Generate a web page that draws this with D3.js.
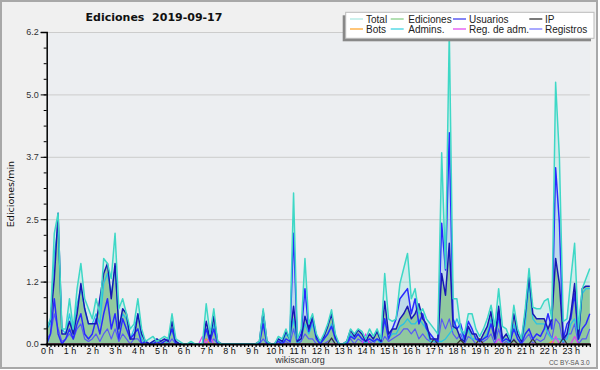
<!DOCTYPE html>
<html><head><meta charset="utf-8">
<script src="https://cdn.jsdelivr.net/npm/d3@7"></script>
<style>body{margin:0;background:#fff}svg{display:block}</style>
</head><body>
<svg id="chart" width="600" height="370"></svg>
<script>
// ---- data: edits per minute, one value every 10 minutes (00:00 .. 23:50) ----
const hourLabels = d3.range(24).map(h => h + " h");
const yTickValues = [0, 1.24, 2.48, 3.72, 4.96, 6.2];
const yTickLabels = ["0.0", "1.2", "2.5", "3.7", "5.0", "6.2"];

const total = [
 0.3,0.5,2.2,2.6,0.3,0.3,  0.9,0.3,1.1,1.6,0.9,0.7,  0.5,0.9,0.6,1.7,1.6,1.3,  2.2,0.7,0.9,0.6,0.3,0.4,
 0.9,0.3,0.05,0.1,0.15,0.05, 0.1,0.15,0.1,0.6,0.1,0.05, 0,0,0.05,0,0,0, 0.8,0.2,0.7,0.05,0,0,
 0,0,0,0,0,0, 0,0,0.05,0.7,0.05,0, 0,0.15,0.1,0.3,0.1,3.0, 0.1,0.3,1.7,0.4,0.6,0.2,
 0.05,0.2,0.4,0.68,0.2,0, 0,0.05,0.3,0.2,0.3,0.25, 0.1,0.3,0.15,0.3,0.1,1.4, 0.5,0.45,0.5,1.2,1.5,1.8,
 0.9,1.1,0.6,0.7,0.5,0.4, 0.3,0.2,3.8,1.5,6.2,0.9, 0.9,0.3,0.2,0.6,0.6,0.3, 0.15,0.3,0.5,0.77,0.35,1.1,
 0.35,0.3,0.1,0.77,0.3,0.1, 0.7,1.5,0.73,0.7,0.7,0.85, 0.9,0.5,5.2,3.7,0.45,0.5, 1.3,2.0,0.3,1.1,1.3,1.5
];
const ediciones = [
 0.3,0.48,1.3,2.6,0.2,0.2,  0.45,0.2,0.6,1.2,0.7,0.4,  0.4,0.4,0.9,1.4,1.6,0.9,  1.6,0.3,0.7,0.6,0.1,0.1,
 0.6,0.2,0.05,0,0.05,0.1, 0.05,0.1,0.05,0.45,0.05,0, 0,0,0,0,0,0, 0.45,0.1,0.55,0.05,0,0,
 0,0,0,0,0,0, 0,0,0.05,0.65,0.05,0, 0,0.1,0.05,0.25,0.1,0.75, 0.05,0.1,0.55,0.3,0.55,0.15,
 0.05,0.15,0.35,0.6,0.15,0, 0,0.05,0.28,0.15,0.28,0.2, 0.05,0.2,0.1,0.25,0.05,0.85, 0.2,0.3,0.3,0.5,0.6,0.75,
 0.5,0.6,0.8,0.5,0.4,0.1, 0.1,0.1,1.4,0.97,2.0,0.35, 0.3,0.1,0.05,0.35,0.2,0.2, 0.05,0.2,0.35,0.65,0.1,0.75,
 0.1,0.2,0.05,0.6,0.2,0.05, 0.6,1.35,0.6,0.5,0.5,0.5, 0.3,0.5,1.7,1.2,0.1,0.2, 0.6,1.2,0.1,1.1,1.15,1.15
];
const usuarios = [
 0,0.2,0.9,0.2,0,0.1,  0.3,0.1,0.4,0.6,0.2,0.1,  0.2,0.5,0.2,0.6,0.9,0.3,  0.6,0.1,0.5,0.3,0.1,0.2,
 0.3,0,0.05,0,0,0.05, 0,0.05,0.1,0.3,0,0, 0,0,0,0,0,0, 0.3,0.05,0.3,0,0,0,
 0,0,0,0,0,0, 0,0,0,0.4,0,0, 0,0.05,0,0.1,0.05,2.2, 0.05,0.2,1.1,0.25,0.5,0.1,
 0,0.1,0.2,0.35,0.1,0, 0,0,0.15,0.1,0.2,0.1, 0.05,0.1,0.05,0.1,0.05,0.5, 0.1,0.3,0.5,0.9,1.0,1.1,
 0.6,0.9,0.4,0.6,0.3,0.2, 0.1,0.05,2.4,1.47,4.2,0.5, 0.3,0.4,0.1,0.45,0.3,0.1, 0.05,0.1,0.15,0.4,0.1,0.6,
 0.05,0.1,0.05,0.3,0.1,0, 0.2,0.3,0.1,0.2,0.15,0.3, 0.6,0.3,3.5,2.4,0.1,0.4, 0.5,1.0,0.1,0.3,0.4,0.6
];
const admins = [
 0.3,0.4,1.8,2.3,0.3,0.2,  0.6,0.2,0.8,1.1,0.7,0.4,  0.4,0.6,0.4,1.2,1.4,1.0,  1.5,0.3,0.6,0.5,0.1,0.3,
 0.6,0.1,0,0,0.05,0, 0,0,0.05,0.3,0,0, 0,0,0,0,0,0, 0.3,0.1,0.4,0,0,0,
 0,0,0,0,0,0, 0,0,0,0.5,0,0, 0,0.1,0,0.2,0.1,0.5, 0,0.1,0.4,0.2,0.4,0.1,
 0,0.1,0.2,0.4,0.1,0, 0,0,0.2,0.1,0.2,0.1, 0,0.1,0.05,0.1,0,0.5, 0.1,0.2,0.2,0.35,0.4,0.5,
 0.4,0.4,0.5,0.4,0.3,0.05, 0.05,0.05,0.05,0.1,0.2,0.3, 0.5,0.3,0.05,0.3,0.1,0.1, 0.05,0.1,0.2,0.5,0.1,0.5,
 0.1,0.1,0,0.4,0.1,0, 0.4,1.2,0.5,0.4,0.4,0.4, 0.2,0.1,0.1,0.1,0.05,0.1, 0.4,0.5,0.1,1.0,1.1,1.1
];
const registros = [
 0.1,0.2,0.6,0.3,0.05,0.1,  0.2,0.1,0.3,0.4,0.1,0.05,  0.1,0.2,0.05,0.2,0.3,0.1,  0.3,0.05,0.2,0.1,0,0.1,
 0.1,0,0,0,0,0, 0,0,0,0.1,0,0, 0,0,0,0,0,0, 0.1,0,0.1,0,0,0,
 0,0,0,0,0,0, 0,0,0,0.1,0,0, 0,0,0,0.05,0,0.3, 0,0.05,0.2,0.1,0.1,0,
 0,0,0.05,0.1,0,0, 0,0,0.1,0,0.1,0.05, 0,0.05,0,0.1,0,0.15, 0.05,0.1,0.15,0.2,0.3,0.3,
 0.2,0.3,0.1,0.2,0.1,0.05, 0.05,0,0.5,0.3,0.5,0.2, 0.1,0.2,0,0.15,0.1,0, 0,0.05,0.1,0.2,0,0.3,
 0,0.05,0,0.1,0,0, 0.1,0.2,0,0.1,0.05,0.1, 0.3,0.1,0.5,0.4,0,0.2, 0.2,0.4,0,0.1,0.1,0.3
];
const ip = [
 0,0,0,0,0,0, 0,0,0,0,0,0, 0,0,0,0,0,0, 0,0,0,0,0,0,
 0,0,0,0,0,0, 0,0,0,0,0,0, 0,0,0,0,0,0, 0,0,0,0,0,0,
 0,0,0,0,0,0, 0,0,0,0,0,0, 0,0,0,0,0,0, 0,0,0,0,0,0,
 0,0,0,0.12,0,0, 0,0,0,0,0,0, 0,0,0,0,0,0, 0,0,0,0,0,0,
 0,0,0,0,0,0, 0.1,0,0,0,0,0, 0,0.08,0,0,0,0, 0.1,0,0,0,0,0,
 0,0,0,0.08,0,0, 0,0,0.1,0,0,0, 0,0,0,0,0.12,0, 0,0,0,0,0,0
];
const bots = [
 0,0,0,0,0,0, 0,0,0,0,0,0, 0,0,0,0,0,0, 0,0,0,0,0,0,
 0,0,0,0,0,0, 0,0,0,0,0,0, 0,0,0,0,0,0, 0.1,0,0,0,0,0,
 0,0,0,0,0,0, 0,0,0,0,0,0, 0,0,0,0,0,0, 0,0,0,0,0,0,
 0,0,0,0,0,0, 0,0,0,0,0,0, 0,0,0,0,0,0, 0,0,0,0,0,0,
 0,0,0,0,0,0, 0,0,0,0,0,0, 0,0,0,0,0,0, 0.1,0,0,0,0,0,
 0,0,0,0,0,0, 0,0,0,0,0,0, 0,0.05,0,0,0,0, 0,0,0,0,0,0
];
const regAdm = [
 0,0,0,0,0,0, 0,0,0,0,0,0, 0,0,0,0,0,0, 0,0,0,0,0,0,
 0,0,0,0,0,0, 0,0,0,0,0,0, 0,0,0,0,0,0.15, 0,0.15,0,0,0,0,
 0,0,0,0,0,0, 0,0,0,0,0,0, 0,0,0,0,0,0, 0,0,0,0,0,0,
 0,0,0,0,0,0, 0,0,0,0,0,0, 0.2,0,0,0,0,0, 0,0,0,0,0,0,
 0,0,0,0,0,0, 0,0,0,0,0,0, 0,0,0,0,0,0, 0,0,0,0,0,0.1,
 0,0,0,0,0,0, 0,0,0,0,0,0, 0,0,0.15,0,0,0, 0,0.15,0,0,0,0
];
const legendItems = [
  ["Total", "#a8e8e2"], ["Ediciones", "#80cc80"], ["Usuarios", "#3333ee"], ["IP", "#222222"],
  ["Bots", "#ffa020"], ["Admins.", "#30d0e0"], ["Reg. de adm.", "#e040f0"], ["Registros", "#7070ff"]
];

// ---- drawing ----
const svg = d3.select("#chart");
const W = 600, H = 370;
const x = d3.scaleLinear().domain([0, 1440]).range([46.7, 593.6]);
const y = d3.scaleLinear().domain([0, 6.2]).range([344, 32]);
const tMin = i => i * 10;

svg.append("rect").attr("x", 0).attr("y", 0).attr("width", W).attr("height", H).attr("fill", "#fff");
svg.append("rect").attr("x", 1).attr("y", 1).attr("width", 596).attr("height", 367)
  .attr("fill", "#f0f0f0").attr("stroke", "#a8a8a8").attr("stroke-width", 2);
svg.append("rect").attr("x", x(0)).attr("y", y(6.2)).attr("width", x(1430) - x(0)).attr("height", y(0) - y(6.2))
  .attr("fill", "#eceef1");

// grid
svg.append("g").selectAll("line").data(yTickValues.slice(1)).join("line")
  .attr("x1", x(0)).attr("x2", x(1430)).attr("y1", d => y(d) + 0.5).attr("y2", d => y(d) + 0.5)
  .attr("stroke", "#cccccc").attr("stroke-width", 1);

const area = d3.area().x((d, i) => x(tMin(i))).y0(y(0)).y1(d => y(d));
const line = d3.line().x((d, i) => x(tMin(i))).y(d => y(d));
const clip = svg.append("clipPath").attr("id", "pc").append("rect")
  .attr("x", x(0)).attr("y", y(6.2) - 2).attr("width", x(1430) - x(0) + 1).attr("height", y(0) - y(6.2) + 2);
const plot = svg.append("g").attr("clip-path", "url(#pc)");

plot.append("path").datum(total).attr("d", area).attr("fill", "rgba(64,224,208,0.16)");
plot.append("path").datum(usuarios).attr("d", area).attr("fill", "rgba(60,100,230,0.12)");
plot.append("path").datum(ediciones).attr("d", area).attr("fill", "#8cc798").attr("fill-opacity", 0.92);

function drawLine(data, color, w) {
  plot.append("path").datum(data).attr("d", line).attr("fill", "none")
    .attr("stroke", color).attr("stroke-width", w).attr("stroke-linejoin", "round");
}
drawLine(registros, "#5a5af5", 1.2);
drawLine(admins, "#28c4e4", 1.3);
drawLine(bots, "#ffa020", 1.2);
drawLine(regAdm, "#e040f0", 1.2);
drawLine(ip, "#333333", 1.2);
drawLine(usuarios, "#2a2aff", 1.5);
drawLine(ediciones, "#1818b4", 1.5);
drawLine(total, "#3ed8c6", 1.5);

// axes
const xAxis = d3.axisBottom(x)
  .tickValues(d3.range(0, 1440, 10))
  .tickSize(3).tickPadding(1)
  .tickFormat(d => d % 60 === 0 ? hourLabels[d / 60] : "");
const gx = svg.append("g").attr("transform", `translate(0,${y(0)})`).call(xAxis);
gx.select(".domain").remove();
gx.selectAll(".tick line").attr("stroke", "#000").attr("stroke-width", 1.3);
gx.selectAll(".tick text").attr("font-family", "Liberation Sans, Arial, sans-serif").attr("font-size", 9).attr("fill", "#111");
svg.append("line").attr("x1", x(0) - 1).attr("x2", x(1430) + 1).attr("y1", y(0) + 0.5).attr("y2", y(0) + 0.5)
  .attr("stroke", "#000").attr("stroke-width", 2);

const yMinor = d3.axisLeft(y).tickValues(d3.range(0, 21).map(k => k * 0.31)).tickSize(3).tickFormat("");
const gym = svg.append("g").attr("transform", `translate(${x(0)},0)`).call(yMinor);
gym.select(".domain").remove();
gym.selectAll(".tick line").attr("stroke", "#000");

const yAxis = d3.axisLeft(y).tickValues(yTickValues).tickSize(6).tickPadding(2)
  .tickFormat((d, i) => yTickLabels[i]);
const gy = svg.append("g").attr("transform", `translate(${x(0)},0)`).call(yAxis);
gy.select(".domain").attr("stroke", "#000").attr("stroke-width", 1.5);
gy.selectAll(".tick line").attr("stroke", "#000");
gy.selectAll(".tick text").attr("font-family", "Liberation Sans, Arial, sans-serif").attr("font-size", 9).attr("fill", "#333");

// titles
svg.append("text").attr("x", 154).attr("y", 20.5).attr("text-anchor", "middle")
  .attr("font-family", "DejaVu Sans, sans-serif").attr("font-weight", "bold").attr("font-size", 11)
  .attr("fill", "#111").attr("xml:space", "preserve").style("white-space", "pre").text("Ediciones  2019-09-17");
svg.append("text").attr("transform", "translate(14,194) rotate(-90)").attr("text-anchor", "middle")
  .attr("font-family", "DejaVu Sans, sans-serif").attr("font-size", 9.5).attr("fill", "#111").text("Ediciones/min");
svg.append("text").attr("x", 300).attr("y", 363).attr("text-anchor", "middle")
  .attr("font-family", "Liberation Sans, Arial, sans-serif").attr("font-size", 9).attr("fill", "#333").text("wikiscan.org");
svg.append("text").attr("x", 589.5).attr("y", 364.5).attr("text-anchor", "end")
  .attr("font-family", "Liberation Sans, Arial, sans-serif").attr("font-size", 6.5).attr("fill", "#555").text("CC BY-SA 3.0");

// legend
const lg = svg.append("g");
lg.append("rect").attr("x", 342.7).attr("y", 15.3).attr("width", 248.3).attr("height", 26).attr("fill", "#888");
lg.append("rect").attr("x", 345.7).attr("y", 12.3).attr("width", 248.3).attr("height", 26)
  .attr("fill", "#fff").attr("stroke", "#bbb").attr("stroke-width", 1);
const colX = [350, 390.7, 453, 529.3];
const colText = [366, 408.3, 469, 545];
legendItems.forEach(([name, color], k) => {
  const col = k % 4, row = Math.floor(k / 4);
  const ly = row === 0 ? 19 : 29;
  lg.append("line").attr("x1", colX[col]).attr("x2", colX[col] + 13).attr("y1", ly).attr("y2", ly)
    .attr("stroke", color).attr("stroke-width", 1.2);
  lg.append("text").attr("x", colText[col]).attr("y", ly + 4)
    .attr("font-family", "Liberation Sans, Arial, sans-serif").attr("font-size", 10).attr("fill", "#222").text(name);
});
</script>
</body></html>
